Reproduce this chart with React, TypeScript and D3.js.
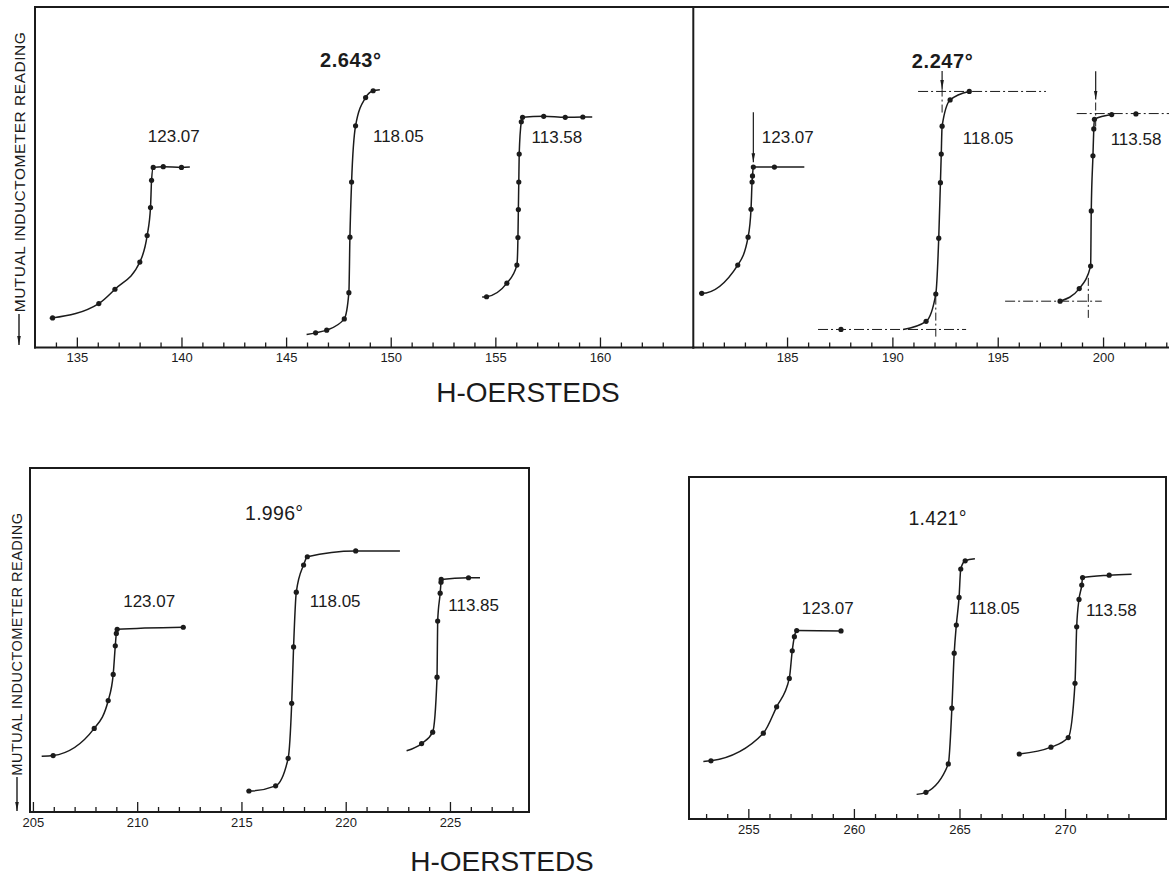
import { useEffect, useRef } from 'react'
import * as d3 from 'd3'

type Pt = [number, number]

const INK = '#1b1b1b'
const FONT = "'Liberation Sans', Arial, sans-serif"

// ---- 2.643° (top, left half) ----
const aNames = ['123.07', '118.05', '113.58']
const a123: Pt[] = [[133.84, 8.7], [136.05, 12.9], [136.82, 17.1], [138.01, 25.1], [138.36, 32.9], [138.52, 41.1], [138.57, 49.1], [138.65, 52.9], [139.13, 53.1], [140.0, 52.9]]
const a118: Pt[] = [[146.41, 4.3], [146.94, 5.1], [147.78, 8.4], [148.0, 16.1], [148.05, 32.4], [148.13, 48.6], [148.32, 65.1], [148.8, 73.4], [149.16, 75.4]]
const a113: Pt[] = [[154.58, 14.9], [155.55, 18.9], [156.03, 24.2], [156.08, 32.3], [156.1, 40.5], [156.12, 48.6], [156.14, 56.8], [156.24, 66.3], [156.3, 67.6], [157.31, 67.9], [158.34, 67.6], [159.18, 67.7]]
const aFrom: (Pt | null)[] = [[133.7, 8.6], [145.98, 3.8], [154.37, 14.8]]
const aTo: (Pt | null)[] = [[140.4, 53.0], [149.48, 75.7], [159.63, 67.7]]
const aNameAt: Pt[] = [[138.39, 60.4], [149.15, 60.4], [156.73, 60.1]]
const aTitleAt: Pt = [146.62, 82.5]
const aDomain = [133, 164.46]
const aTickLabels = [135, 140, 145, 150, 155, 160]

// ---- 2.247° (top, right half) ----
const bNames = ['123.07', '118.05', '113.58']
const b123: Pt[] = [[180.95, 15.9], [182.66, 24.2], [183.15, 32.4], [183.29, 40.6], [183.34, 48.6], [183.36, 50.4], [183.4, 53.0], [184.4, 53.0]]
const b118: Pt[] = [[187.56, 5.3], [191.6, 7.7], [192.06, 15.7], [192.2, 32.1], [192.28, 48.4], [192.32, 56.8], [192.36, 65.0], [192.74, 72.7], [193.65, 75.2]]
const b113: Pt[] = [[197.96, 13.6], [198.87, 17.3], [199.41, 23.9], [199.44, 40.1], [199.52, 56.3], [199.56, 64.2], [199.59, 67.0], [200.41, 68.4], [201.56, 68.6]]
const bFrom: (Pt | null)[] = [[180.82, 15.9], [190.51, 5.3], null]
const bTo: (Pt | null)[] = [[185.82, 53.0], null, [200.41, 68.4]]
const bNameAt: Pt[] = [[183.8, 60.1], [193.34, 59.9], [200.36, 59.5]]
const bTitleAt: Pt = [190.92, 82.2]
const bDomain = [180.55, 203.13]
const bTickLabels = [185, 190, 195, 200]
// construction lines: [reading, H from, H to] and [H, reading from, reading to]
const bGuidesH = [[5.3, 186.47, 193.5], [75.2, 191.22, 197.29], [13.6, 195.35, 199.94], [68.7, 198.75, 203.5]]
const bGuidesV = [[192.06, 3.2, 17.1], [192.36, 69.0, 75.9], [199.3, 8.7, 21.0], [199.65, 64.9, 72.8]]
const bArrows = [[183.4, 69.1, 54.4], [192.36, 81.2, 75.9], [199.65, 81.1, 72.8]]

// ---- 1.996° (bottom left) ----
const cNames = ['123.07', '118.05', '113.85']
const c123: Pt[] = [[205.97, 16.4], [207.94, 24.3], [208.61, 32.4], [208.85, 40.0], [208.95, 48.3], [209.0, 51.9], [209.04, 53.1], [212.21, 53.7]]
const c118: Pt[] = [[215.36, 6.1], [216.64, 7.6], [217.24, 15.6], [217.41, 31.6], [217.5, 48.0], [217.63, 63.9], [217.98, 71.8], [218.16, 74.2], [220.48, 75.9]]
const c113: Pt[] = [[223.64, 19.9], [224.17, 23.2], [224.38, 39.2], [224.41, 55.5], [224.53, 63.6], [224.57, 66.8], [224.58, 67.6], [225.89, 68.1]]
const cFrom: (Pt | null)[] = [[205.42, 16.2], [215.25, 6.1], [222.92, 17.8]]
const cTo: (Pt | null)[] = [null, [222.6, 75.9], [226.44, 68.1]]
const cNameAt: Pt[] = [[209.33, 59.5], [218.28, 59.6], [224.92, 58.5]]
const cTitleAt: Pt = [215.17, 84.9]
const cDomain = [204.86, 228.79]
const cTickLabels = [205, 210, 215, 220, 225]

// ---- 1.421° (bottom right) ----
const dNames = ['123.07', '118.05', '113.58']
const d123: Pt[] = [[253.23, 17.0], [255.71, 25.1], [256.34, 32.8], [256.94, 41.1], [257.08, 49.2], [257.18, 53.3], [257.29, 55.1], [259.39, 55.0]]
const d118: Pt[] = [[263.41, 7.8], [264.47, 16.1], [264.64, 32.4], [264.75, 48.5], [264.85, 56.7], [264.98, 64.8], [265.06, 73.1], [265.27, 75.5]]
const d113: Pt[] = [[267.83, 19.0], [269.33, 21.0], [270.15, 23.8], [270.47, 39.7], [270.55, 56.2], [270.66, 64.2], [270.79, 68.4], [270.83, 70.6], [272.09, 71.3]]
const dFrom: (Pt | null)[] = [[252.87, 16.8], [262.97, 7.2], null]
const dTo: (Pt | null)[] = [null, [265.73, 76.1], [273.15, 71.6]]
const dNameAt: Pt[] = [[257.53, 59.9], [265.45, 59.9], [270.99, 59.4]]
const dTitleAt: Pt = [262.58, 86.0]
const dDomain = [252.19, 274.78]
const dTickLabels = [255, 260, 265, 270]

const trace = (dots: Pt[], from: Pt | null, to: Pt | null): Pt[] => {
  const lo = from ? from[0] : -Infinity
  const hi = to ? to[0] : Infinity
  const mid = dots.filter(d => d[0] > lo && d[0] < hi)
  return [...(from ? [from] : []), ...mid, ...(to ? [to] : [])]
}

const panels = [
  {
    title: '2.643°', bold: true, titleAt: aTitleAt, domain: aDomain, ticks: d3.range(134, 164), tickLabels: aTickLabels,
    left: 35, right: 693.3, top: 7, bottom: 347.5, sides: ['top', 'bottom', 'left', 'right'],
    curves: [a123, a118, a113].map((dots, i) => ({ name: aNames[i], at: aNameAt[i], dots, line: trace(dots, aFrom[i], aTo[i]) })),
    guidesH: [], guidesV: [], arrows: [],
  },
  {
    title: '2.247°', bold: true, titleAt: bTitleAt, domain: bDomain, ticks: d3.range(181, 204), tickLabels: bTickLabels,
    left: 693.3, right: 1169, top: 7, bottom: 347.5, sides: ['top', 'bottom'],
    curves: [b123, b118, b113].map((dots, i) => ({ name: bNames[i], at: bNameAt[i], dots, line: trace(dots, bFrom[i], bTo[i]) })),
    guidesH: bGuidesH, guidesV: bGuidesV, arrows: bArrows,
  },
  {
    title: '1.996°', bold: false, titleAt: cTitleAt, domain: cDomain, ticks: d3.range(205, 229), tickLabels: cTickLabels,
    left: 30, right: 529, top: 468, bottom: 812, sides: ['top', 'bottom', 'left', 'right'],
    curves: [c123, c118, c113].map((dots, i) => ({ name: cNames[i], at: cNameAt[i], dots, line: trace(dots, cFrom[i], cTo[i]) })),
    guidesH: [], guidesV: [], arrows: [],
  },
  {
    title: '1.421°', bold: false, titleAt: dTitleAt, domain: dDomain, ticks: d3.range(253, 274), tickLabels: dTickLabels,
    left: 689, right: 1166, top: 477, bottom: 819, sides: ['top', 'bottom', 'left', 'right'],
    curves: [d123, d118, d113].map((dots, i) => ({ name: dNames[i], at: dNameAt[i], dots, line: trace(dots, dFrom[i], dTo[i]) })),
    guidesH: [], guidesV: [], arrows: [],
  },
]

const yTitles = [
  { x: 19, cy: 172, size: 15.5, from: 314, to: 345 },
  { x: 17, cy: 644, size: 14.5, from: 777, to: 811 },
]
const xTitles = [
  { x: 528, y: 402 },
  { x: 502, y: 871 },
]

export default function App() {
  const svgRef = useRef<SVGSVGElement>(null)

  useEffect(() => {
    if (!svgRef.current) return
    const svg = d3.select(svgRef.current)
    svg.selectAll('*').remove()

    svg.append('rect').attr('width', 1169).attr('height', 880).attr('fill', '#fff')

    const marker = svg.append('defs').append('marker')
      .attr('id', 'ah')
      .attr('viewBox', '0 0 10 4')
      .attr('refX', 10).attr('refY', 2)
      .attr('markerUnits', 'userSpaceOnUse')
      .attr('markerWidth', 9).attr('markerHeight', 4.5)
      .attr('orient', 'auto')
    marker.append('path').attr('d', 'M0,0 L10,2 L0,4 Z').attr('fill', INK)

    panels.forEach(p => {
      const x = d3.scaleLinear().domain(p.domain).range([p.left, p.right])
      const y = d3.scaleLinear().domain([0, 100]).range([p.bottom, p.top])
      const g = svg.append('g')

      // frame
      const frame: Record<string, [number, number, number, number]> = {
        top: [p.left, p.top, p.right, p.top],
        bottom: [p.left, p.bottom, p.right, p.bottom],
        left: [p.left, p.top, p.left, p.bottom],
        right: [p.right, p.top, p.right, p.bottom],
      }
      p.sides.forEach(s => {
        const [x1, y1, x2, y2] = frame[s]
        g.append('line')
          .attr('x1', x1).attr('y1', y1).attr('x2', x2).attr('y2', y2)
          .attr('stroke', INK).attr('stroke-width', 2).attr('stroke-linecap', 'square')
      })

      // axis with ticks pointing up
      const axis = g.append('g')
        .attr('transform', `translate(0,${p.bottom})`)
        .call(d3.axisBottom(x)
          .tickValues(p.ticks)
          .tickSizeOuter(0)
          .tickSize(-5)
          .tickPadding(14.5)
          .tickFormat(d => (p.tickLabels.includes(+d) ? String(d) : '')))
      axis.select('.domain').remove()
      axis.selectAll('.tick line')
        .attr('y2', (d: any) => (p.tickLabels.includes(+d) ? -10 : -5))
        .attr('stroke', INK).attr('stroke-width', 1.3)
      axis.selectAll('.tick text')
        .attr('dy', 0)
        .attr('fill', INK)
        .attr('font-family', FONT)
        .attr('font-size', 13)

      // construction lines
      p.guidesH.forEach(([v, h1, h2]) => {
        g.append('line')
          .attr('x1', x(h1)).attr('x2', Math.min(x(h2), p.right))
          .attr('y1', y(v)).attr('y2', y(v))
          .attr('stroke', INK).attr('stroke-width', 1)
          .attr('stroke-dasharray', '10,3,2,3')
      })
      p.guidesV.forEach(([h, v1, v2]) => {
        g.append('line')
          .attr('x1', x(h)).attr('x2', x(h))
          .attr('y1', y(v1)).attr('y2', y(v2))
          .attr('stroke', INK).attr('stroke-width', 1)
          .attr('stroke-dasharray', '8,3,2,3')
      })
      p.arrows.forEach(([h, v1, v2]) => {
        g.append('line')
          .attr('x1', x(h)).attr('x2', x(h))
          .attr('y1', y(v1)).attr('y2', y(v2))
          .attr('stroke', INK).attr('stroke-width', 1.2)
          .attr('marker-end', 'url(#ah)')
      })

      const line = d3.line<Pt>()
        .x(d => x(d[0]))
        .y(d => y(d[1]))
        .curve(d3.curveMonotoneX)

      p.curves.forEach(c => {
        g.append('path')
          .datum(c.line)
          .attr('fill', 'none')
          .attr('stroke', INK)
          .attr('stroke-width', 1.5)
          .attr('d', line)

        g.selectAll(null)
          .data(c.dots)
          .join('circle')
          .attr('cx', d => x(d[0]))
          .attr('cy', d => y(d[1]))
          .attr('r', 2.6)
          .attr('fill', INK)

        g.append('text')
          .attr('x', x(c.at[0]))
          .attr('y', y(c.at[1]))
          .attr('font-family', FONT)
          .attr('font-size', 17)
          .attr('fill', INK)
          .text(c.name)
      })

      g.append('text')
        .attr('x', x(p.titleAt[0]))
        .attr('y', y(p.titleAt[1]))
        .attr('font-family', FONT)
        .attr('font-size', p.bold ? 20 : 19.5)
        .attr('font-weight', p.bold ? 'bold' : 'normal')
        .attr('letter-spacing', p.bold ? 0.6 : 0.3)
        .attr('fill', INK)
        .text(p.title)
    })

    yTitles.forEach(t => {
      svg.append('text')
        .attr('transform', `translate(${t.x},${t.cy}) rotate(-90)`)
        .attr('text-anchor', 'middle')
        .attr('dy', '0.36em')
        .attr('font-family', FONT)
        .attr('font-size', t.size)
        .attr('letter-spacing', 0.5)
        .attr('fill', INK)
        .text('MUTUAL INDUCTOMETER READING')
      svg.append('line')
        .attr('x1', t.x).attr('x2', t.x)
        .attr('y1', t.from).attr('y2', t.to)
        .attr('stroke', INK).attr('stroke-width', 1.4)
        .attr('marker-end', 'url(#ah)')
    })

    xTitles.forEach(t => {
      svg.append('text')
        .attr('x', t.x)
        .attr('y', t.y)
        .attr('text-anchor', 'middle')
        .attr('font-family', FONT)
        .attr('font-size', 28)
        .attr('fill', INK)
        .text('H-OERSTEDS')
    })
  }, [])

  return (
    <svg
      ref={svgRef}
      width={1169}
      height={880}
      style={{ position: 'fixed', left: 0, top: 0, display: 'block' }}
    />
  )
}
